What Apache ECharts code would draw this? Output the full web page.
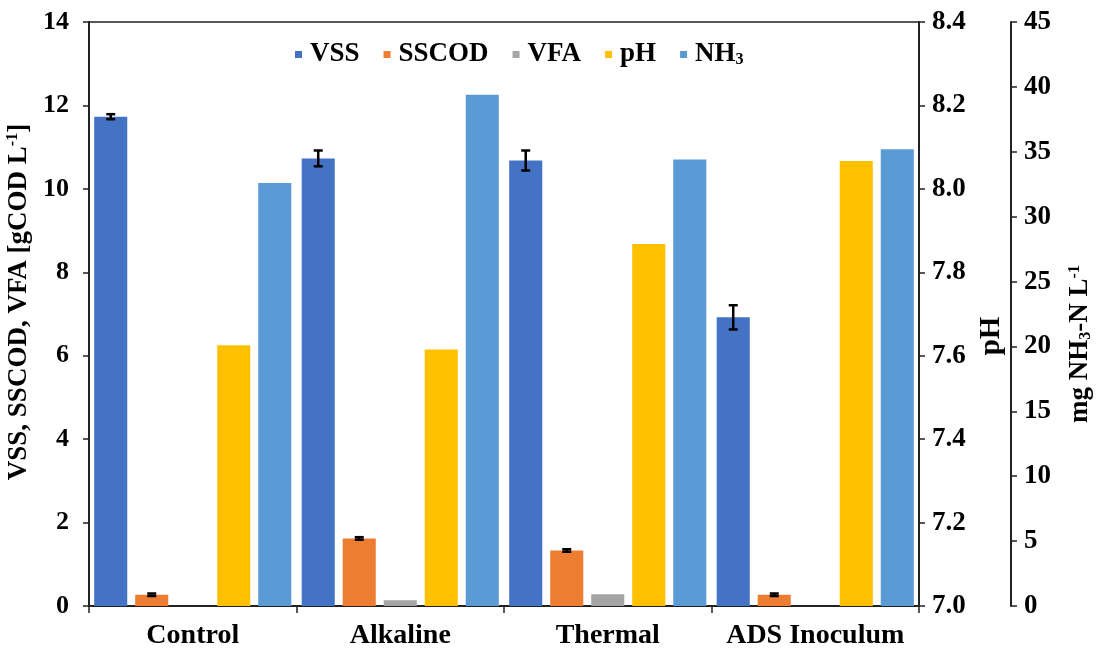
<!DOCTYPE html>
<html>
<head>
<meta charset="utf-8">
<script src="https://cdn.jsdelivr.net/npm/echarts@6/dist/echarts.min.js"></script>
<style>
  html, body { margin: 0; padding: 0; background: #fff; }
  #chart { width: 1099px; height: 649px; }
</style>
</head>
<body>
<div id="chart"></div>
<script>
// Sludge characteristics per pretreatment
const categories = ['Control', 'Alkaline', 'Thermal', 'ADS Inoculum'];
const seriesNames = ['VSS', 'SSCOD', 'VFA', 'pH', 'NH3'];

// gCOD/L
const vss = [11.73, 10.73, 10.68, 6.92];
const vssErr = [0.06, 0.19, 0.24, 0.29];
const sscod = [0.27, 1.62, 1.33, 0.27];
const sscodErr = [0.03, 0.03, 0.03, 0.03];
const vfa = [0, 0.14, 0.28, 0];
// pH units
const ph = [7.625, 7.615, 7.868, 8.067];
// mg NH3-N/L
const nh3 = [32.6, 39.4, 34.4, 35.2];

const colors = ['#4472C4', '#ED7D31', '#A5A5A5', '#FFC000', '#5B9BD5'];
const FONT = 'Liberation Serif';
const BAR_CAT_GAP = 0.05;
const BAR_GAP = 0.24;
const N_BARS = 5;

const chart = echarts.init(document.getElementById('chart'));

// Error whiskers placed over the k-th bar of each category group
function errorSeries(values, errors, k) {
  return {
    type: 'custom',
    yAxisIndex: 0,
    z: 10,
    silent: true,
    data: values.map((v, i) => [i, v, errors[i]]),
    encode: { x: 0, y: 1 },
    renderItem: function (params, api) {
      const i = api.value(0), v = api.value(1), e = api.value(2);
      const band = api.size([1, 0])[0];
      const usable = band * (1 - BAR_CAT_GAP);
      const bw = usable / (N_BARS + (N_BARS - 1) * BAR_GAP);
      const center = api.coord([i, v])[0];
      const x = center - usable / 2 + k * bw * (1 + BAR_GAP) + bw / 2;
      const yHi = api.coord([i, v + e])[1];
      const yLo = api.coord([i, v - e])[1];
      const cap = 4.5;
      const style = { stroke: '#000', lineWidth: 2.5 };
      return {
        type: 'group',
        children: [
          { type: 'line', shape: { x1: x, y1: yHi, x2: x, y2: yLo }, style: style },
          { type: 'line', shape: { x1: x - cap, y1: yHi, x2: x + cap, y2: yHi }, style: style },
          { type: 'line', shape: { x1: x - cap, y1: yLo, x2: x + cap, y2: yLo }, style: style }
        ]
      };
    }
  };
}

function bold(size) {
  return { color: '#000', fontFamily: FONT, fontWeight: 'bold', fontSize: size };
}
function nameStyle(size, padding) {
  return Object.assign(bold(size), {
    padding: padding,
    rich: {
      sup: Object.assign(bold(Math.round(size * 0.6)), { verticalAlign: 'top' }),
      sub: Object.assign(bold(Math.round(size * 0.6)), { verticalAlign: 'bottom' })
    }
  });
}
const axisLine = { show: true, lineStyle: { color: '#222', width: 2 } };
const axisTick = { show: true, length: 6, lineStyle: { color: '#222', width: 1.5 } };

function bar(name, data, yAxisIndex) {
  return {
    name: name,
    type: 'bar',
    yAxisIndex: yAxisIndex,
    data: data,
    barCategoryGap: (BAR_CAT_GAP * 100) + '%',
    barGap: (BAR_GAP * 100) + '%',
    itemStyle: { color: colors[seriesNames.indexOf(name)] }
  };
}

chart.setOption({
  animation: false,
  color: colors,
  grid: {
    left: 89, right: 180, top: 22, bottom: 43,
    outerBoundsMode: 'none',
    containLabel: false,
    show: true, borderColor: '#222', borderWidth: 1.5, backgroundColor: 'transparent'
  },
  legend: {
    data: seriesNames,
    left: 290, top: 36,
    icon: 'rect', itemWidth: 7, itemHeight: 7, itemGap: 24,
    textStyle: Object.assign(bold(27), {
      padding: [0, 0, 0, 3],
      rich: { sub: Object.assign(bold(16), { verticalAlign: 'bottom' }) }
    }),
    formatter: function (n) { return n === 'NH3' ? 'NH{sub|3}' : n; }
  },
  xAxis: {
    type: 'category',
    data: categories,
    axisLine: axisLine,
    axisTick: { show: true, length: 7, interval: 0, lineStyle: { color: '#222', width: 1.5 } },
    axisLabel: Object.assign({ margin: 16, interval: 0 }, bold(28))
  },
  yAxis: [
    {
      type: 'value', position: 'left', min: 0, max: 14, interval: 2,
      splitLine: { show: false },
      axisLine: axisLine, axisTick: axisTick,
      axisLabel: Object.assign({ margin: 20 }, bold(26)),
      name: 'VSS, SSCOD, VFA [gCOD L{sup|-1}]',
      nameLocation: 'middle', nameRotate: 90, nameGap: 44,
      nameTextStyle: nameStyle(27, [0, 0, 0, 24])
    },
    {
      type: 'value', position: 'right', min: 7.0, max: 8.4, interval: 0.2,
      splitLine: { show: false },
      axisLine: axisLine, axisTick: axisTick,
      axisLabel: Object.assign({ margin: 13, formatter: v => v.toFixed(1) }, bold(27)),
      name: 'pH',
      nameLocation: 'middle', nameRotate: 90, nameGap: 58,
      nameTextStyle: nameStyle(29, [0, 44, 0, 0])
    },
    {
      type: 'value', position: 'right', offset: 92, min: 0, max: 45, interval: 5,
      splitLine: { show: false },
      axisLine: axisLine, axisTick: axisTick,
      axisLabel: Object.assign({ margin: 13 }, bold(27)),
      name: 'mg NH{sub|3}-N L{sup|-1}',
      nameLocation: 'middle', nameRotate: 90, nameGap: 56,
      nameTextStyle: nameStyle(27, [0, 60, 0, 0])
    }
  ],
  series: [
    bar('VSS', vss, 0),
    bar('SSCOD', sscod, 0),
    bar('VFA', vfa, 0),
    bar('pH', ph, 1),
    bar('NH3', nh3, 2),
    errorSeries(vss, vssErr, 0),
    errorSeries(sscod, sscodErr, 1)
  ]
});
</script>
</body>
</html>
